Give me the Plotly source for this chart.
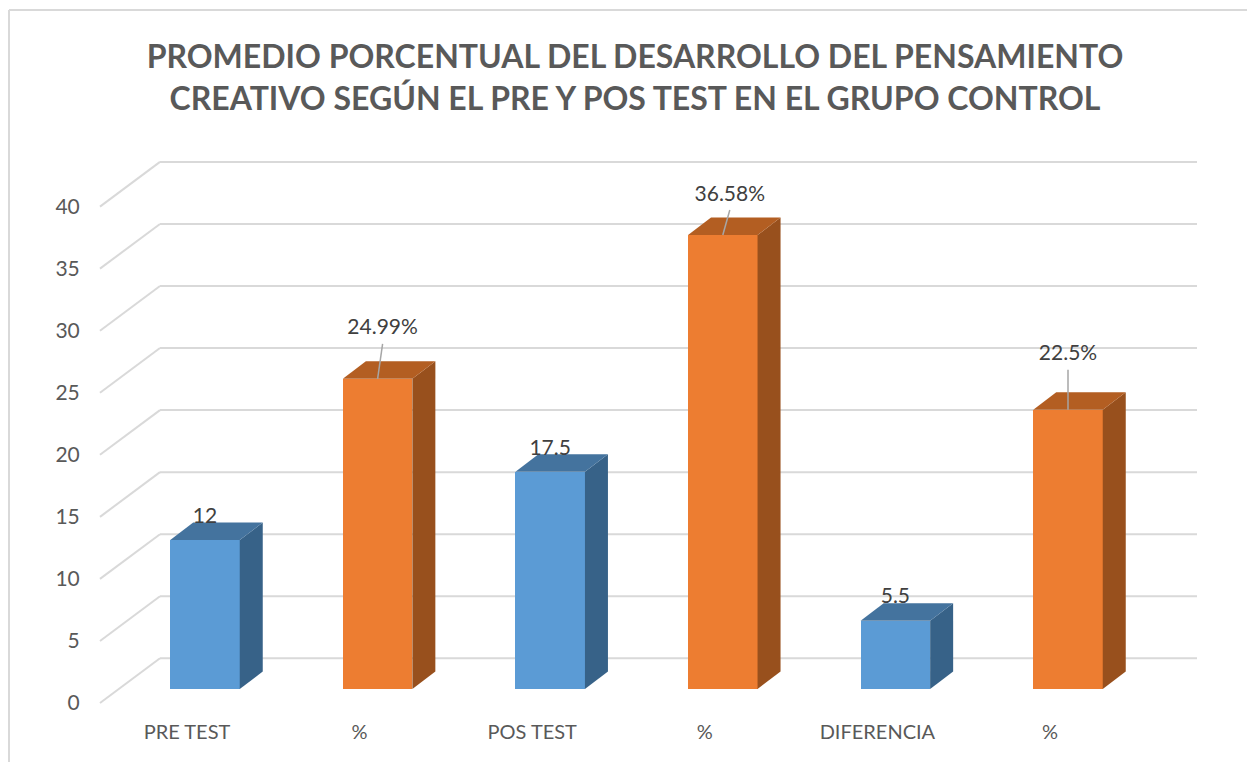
# plot.py - promedio porcentual, barras con efecto 3D

import plotly.graph_objects as go

categories = ["PRE TEST", "%", "POS TEST", "%", "DIFERENCIA", "%"]
values = [12, 24.99, 17.5, 36.58, 5.5, 22.5]
value_labels = ["12", "24.99%", "17.5", "36.58%", "5.5", "22.5%"]
y_ticks = [0, 5, 10, 15, 20, 25, 30, 35, 40]

TITLE = ("PROMEDIO PORCENTUAL DEL DESARROLLO DEL PENSAMIENTO<br>"
         "CREATIVO SEGÚN EL PRE Y POS TEST EN EL GRUPO CONTROL")

WIDTH, HEIGHT = 1247, 762
FONT = "Lato"

# pixel scale of the axes
PX_X = 172.6    # one category
PX_Y = 12.41    # one value unit
X0_PX = 205     # centre of the first bar
Y0_PX = 689     # value 0 on the plane of the bars

# plot area in pixels
LEFT, RIGHT, TOP, BOTTOM = 95, 1200, 150, 708


def ux(px):
    return px / PX_X


def uy(px):
    return px / PX_Y


BAR_W = ux(69.5)
DEPTH_X = ux(23)
DEPTH_Y = uy(17.5)

# per-bar label placement, pixels above the bar top / right of the bar centre
label_dy = [22, 50, 22, 39, 23, 55]
label_dx = [0, 5, 0, 7, 0, 0]
leader_gap = [0, 15, 0, 14, 0, 15]

BLUE, BLUE_SIDE, BLUE_TOP = "#5B9BD5", "#376288", "#44739E"
ORANGE, ORANGE_SIDE, ORANGE_TOP = "#ED7D31", "#98501D", "#B35E22"

idx = list(range(len(categories)))
is_blue = [i % 2 == 0 for i in idx]

fig = go.Figure()

# front faces
fig.add_trace(go.Bar(
    x=idx, y=values, width=BAR_W,
    marker=dict(color=[BLUE if b else ORANGE for b in is_blue],
                line=dict(width=0)),
    hoverinfo="x+y", showlegend=False,
))

# side and top faces
for i, v in zip(idx, values):
    xl, xr = i - BAR_W / 2, i + BAR_W / 2
    fig.add_trace(go.Scatter(
        x=[xr, xr + DEPTH_X, xr + DEPTH_X, xr, xr],
        y=[0, DEPTH_Y, v + DEPTH_Y, v, 0],
        mode="lines", fill="toself", line=dict(width=0),
        fillcolor=BLUE_SIDE if is_blue[i] else ORANGE_SIDE,
        hoverinfo="skip", showlegend=False,
    ))
    fig.add_trace(go.Scatter(
        x=[xl, xl + DEPTH_X, xr + DEPTH_X, xr, xl],
        y=[v, v + DEPTH_Y, v + DEPTH_Y, v, v],
        mode="lines", fill="toself", line=dict(width=0),
        fillcolor=BLUE_TOP if is_blue[i] else ORANGE_TOP,
        hoverinfo="skip", showlegend=False,
    ))

# leader lines for the % labels
for i, v in zip(idx, values):
    if leader_gap[i]:
        fig.add_trace(go.Scatter(
            x=[i, i + ux(label_dx[i])],
            y=[v, v + uy(label_dy[i] - leader_gap[i])],
            mode="lines", line=dict(color="#A6A6A6", width=1.5),
            hoverinfo="skip", showlegend=False,
        ))

# data labels
fig.add_trace(go.Scatter(
    x=[i + ux(dx) for i, dx in zip(idx, label_dx)],
    y=[v + uy(dy) for v, dy in zip(values, label_dy)],
    mode="text", text=value_labels, textposition="middle center",
    textfont=dict(family=FONT, size=21, color="#404040"),
    hoverinfo="skip", showlegend=False,
))

# gridlines: wall and floor edge, under the bars
grid_left = ux(100 - X0_PX)
grid_corner = ux(160 - X0_PX)
grid_right = ux(1197 - X0_PX)
grid_front = uy(Y0_PX - 703)
grid_back = uy(Y0_PX - 658.3)
for t in y_ticks:
    fig.add_shape(type="line", layer="below",
                  x0=grid_left, x1=grid_corner,
                  y0=t + grid_front, y1=t + grid_back,
                  line=dict(color="#D9D9D9", width=2))
    fig.add_shape(type="line", layer="below",
                  x0=grid_corner, x1=grid_right,
                  y0=t + grid_back, y1=t + grid_back,
                  line=dict(color="#D9D9D9", width=2))

# outer frame, only top and left show in the picture
plot_w, plot_h = RIGHT - LEFT, BOTTOM - TOP
frame_x = (9 - LEFT) / plot_w
frame_y = (BOTTOM - 10) / plot_h
frame_bottom = (BOTTOM - HEIGHT) / plot_h
frame_right = (WIDTH - LEFT) / plot_w
fig.add_shape(type="line", xref="paper", yref="paper", layer="below",
              x0=frame_x, x1=frame_right, y0=frame_y, y1=frame_y,
              line=dict(color="#D9D9D9", width=2))
fig.add_shape(type="line", xref="paper", yref="paper", layer="below",
              x0=frame_x, x1=frame_x, y0=frame_bottom, y1=frame_y,
              line=dict(color="#D9D9D9", width=2))

fig.update_layout(
    width=WIDTH, height=HEIGHT,
    margin=dict(l=LEFT, r=WIDTH - RIGHT, t=TOP, b=HEIGHT - BOTTOM, autoexpand=False),
    paper_bgcolor="white", plot_bgcolor="white",
    title=dict(
        text=TITLE, x=635 / WIDTH, xanchor="center", xref="container",
        y=1 - 68 / HEIGHT, yanchor="middle", yref="container",
        font=dict(family=FONT, size=32, color="#595959", weight="bold"),
    ),
    xaxis=dict(
        range=[ux(LEFT - X0_PX), ux(RIGHT - X0_PX)],
        tickmode="array",
        tickvals=[i - ux(18) for i in idx],
        ticktext=categories,
        ticks="outside", ticklen=6, tickcolor="rgba(0,0,0,0)",
        showgrid=False, zeroline=False, showline=False,
        tickfont=dict(family=FONT, size=20, color="#595959"),
        fixedrange=True,
    ),
    yaxis=dict(
        range=[uy(Y0_PX - BOTTOM), uy(Y0_PX - TOP)],
        tickmode="array",
        tickvals=[t + uy(Y0_PX - 703) for t in y_ticks],
        ticktext=[str(t) for t in y_ticks],
        ticks="outside", ticklen=10, tickcolor="rgba(0,0,0,0)",
        showgrid=False, zeroline=False, showline=False,
        tickfont=dict(family=FONT, size=21, color="#595959"),
        fixedrange=True,
    ),
    bargap=0,
)

# the page's default body margin would push the figure 8px off
fig.write_html(
    "out.html",
    config=dict(displayModeBar=False),
    post_script="document.body.style.margin='0';"
                "document.documentElement.style.overflow='hidden';",
)
